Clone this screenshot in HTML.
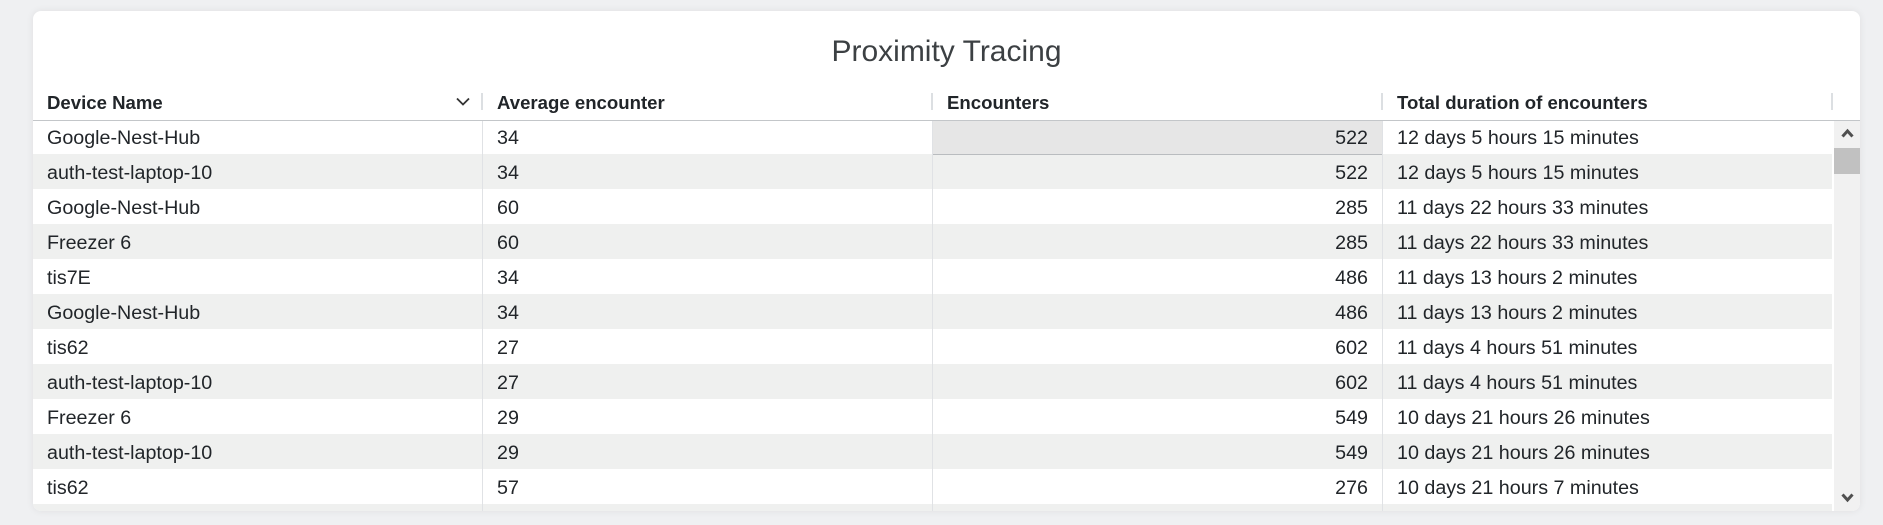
<!DOCTYPE html>
<html><head><meta charset="utf-8"><style>
*{box-sizing:border-box}
body{margin:0;width:1883px;height:525px;background:#eff0f2;position:relative;overflow:hidden;font-family:"Liberation Sans",Arial,sans-serif}
.card{position:absolute;left:33px;top:11px;width:1827px;height:500px;background:#fff;border-radius:8px;box-shadow:0 0 8px rgba(0,0,0,.07);overflow:hidden}
.title{position:absolute;left:0;width:100%;top:24px;text-align:center;font-size:30px;line-height:34px;color:#3c4043;white-space:nowrap}
.h{position:absolute;top:81.5px;font-size:18.6px;line-height:20px;font-weight:bold;color:#212529;white-space:nowrap}
.hd{position:absolute;top:82px;width:2px;height:17px;background:#dcdfe2}
.hb{position:absolute;left:0;top:109px;width:1827px;height:1px;background:#c3c6c9}
.row{position:absolute;left:0;width:1799px;height:35px}
.g{background:#eff0ef}
.vd{position:absolute;top:110px;width:1px;height:400px;background:#e0e2e5}
.t{position:absolute;font-size:19.7px;line-height:35px;color:#212529;white-space:nowrap}
.c1{left:14px}.c2{left:464px}.c4{left:1364px}.c3{right:492px;text-align:right}
.sel{position:absolute;left:899px;top:109px;width:451px;height:35px;background:#e6e6e6;border:1px solid #b9bcbf}
.sb{position:absolute;left:1801px;top:110px;width:26px;height:400px;background:#f1f1f1}
.thumb{position:absolute;left:1801px;top:137px;width:26px;height:26px;background:#c1c1c1}
</style></head><body>
<div class="card">
<div class="title">Proximity Tracing</div>

<div class="row g" style="top:143px"></div>
<div class="row g" style="top:213px"></div>
<div class="row g" style="top:283px"></div>
<div class="row g" style="top:353px"></div>
<div class="row g" style="top:423px"></div>
<div class="row g" style="top:493px"></div>

<div class="sel"></div>
<div class="vd" style="left:449px"></div>
<div class="vd" style="left:899px"></div>
<div class="vd" style="left:1349px"></div>

<div class="h" style="left:14px">Device Name</div>
<svg style="position:absolute;left:422px;top:85px" width="16" height="11" viewBox="0 0 16 11"><polyline points="2,2.5 8,8.5 14,2.5" fill="none" stroke="#333" stroke-width="1.8"/></svg>
<div class="hd" style="left:448px"></div>
<div class="h" style="left:464px">Average encounter</div>
<div class="hd" style="left:898px"></div>
<div class="h" style="left:914px">Encounters</div>
<div class="hd" style="left:1348px"></div>
<div class="h" style="left:1364px">Total duration of encounters</div>
<div class="hd" style="left:1798px"></div>
<div class="hb"></div>

<div class="t c1" style="top:110px">Google-Nest-Hub</div><div class="t c2" style="top:110px">34</div><div class="t c3" style="top:110px">522</div><div class="t c4" style="top:110px">12 days 5 hours 15 minutes</div>
<div class="t c1" style="top:145px">auth-test-laptop-10</div><div class="t c2" style="top:145px">34</div><div class="t c3" style="top:145px">522</div><div class="t c4" style="top:145px">12 days 5 hours 15 minutes</div>
<div class="t c1" style="top:180px">Google-Nest-Hub</div><div class="t c2" style="top:180px">60</div><div class="t c3" style="top:180px">285</div><div class="t c4" style="top:180px">11 days 22 hours 33 minutes</div>
<div class="t c1" style="top:215px">Freezer 6</div><div class="t c2" style="top:215px">60</div><div class="t c3" style="top:215px">285</div><div class="t c4" style="top:215px">11 days 22 hours 33 minutes</div>
<div class="t c1" style="top:250px">tis7E</div><div class="t c2" style="top:250px">34</div><div class="t c3" style="top:250px">486</div><div class="t c4" style="top:250px">11 days 13 hours 2 minutes</div>
<div class="t c1" style="top:285px">Google-Nest-Hub</div><div class="t c2" style="top:285px">34</div><div class="t c3" style="top:285px">486</div><div class="t c4" style="top:285px">11 days 13 hours 2 minutes</div>
<div class="t c1" style="top:320px">tis62</div><div class="t c2" style="top:320px">27</div><div class="t c3" style="top:320px">602</div><div class="t c4" style="top:320px">11 days 4 hours 51 minutes</div>
<div class="t c1" style="top:355px">auth-test-laptop-10</div><div class="t c2" style="top:355px">27</div><div class="t c3" style="top:355px">602</div><div class="t c4" style="top:355px">11 days 4 hours 51 minutes</div>
<div class="t c1" style="top:390px">Freezer 6</div><div class="t c2" style="top:390px">29</div><div class="t c3" style="top:390px">549</div><div class="t c4" style="top:390px">10 days 21 hours 26 minutes</div>
<div class="t c1" style="top:425px">auth-test-laptop-10</div><div class="t c2" style="top:425px">29</div><div class="t c3" style="top:425px">549</div><div class="t c4" style="top:425px">10 days 21 hours 26 minutes</div>
<div class="t c1" style="top:460px">tis62</div><div class="t c2" style="top:460px">57</div><div class="t c3" style="top:460px">276</div><div class="t c4" style="top:460px">10 days 21 hours 7 minutes</div>

<div class="sb"></div>
<div class="thumb"></div>
<svg style="position:absolute;left:1807.5px;top:117px" width="13" height="10" viewBox="0 0 13 10"><polyline points="1.5,8.5 6.5,3 11.5,8.5" fill="none" stroke="#505050" stroke-width="3"/></svg>
<svg style="position:absolute;left:1807.5px;top:482px" width="13" height="10" viewBox="0 0 13 10"><polyline points="1.5,1.5 6.5,7 11.5,1.5" fill="none" stroke="#505050" stroke-width="3"/></svg>
</div>
</body></html>
